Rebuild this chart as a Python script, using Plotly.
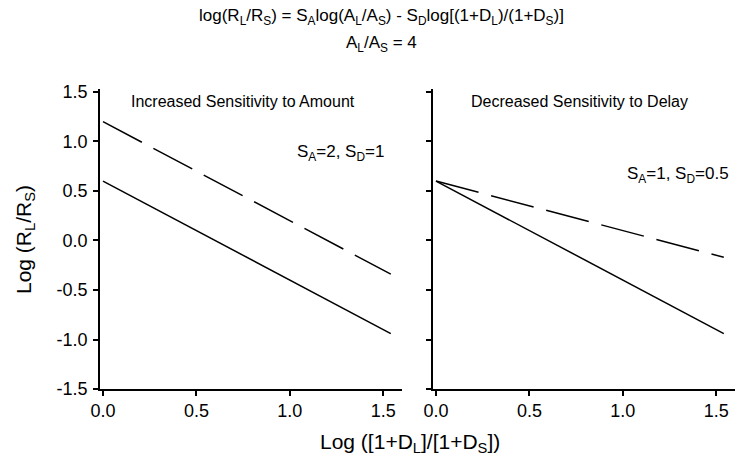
import plotly.graph_objects as go
from plotly.subplots import make_subplots

# Data
x_delay = [0.0, 1.54]
base_line = [0.60, -0.94]
amount_line = [1.20, -0.34]
delay_line = [0.60, -0.17]
panel_titles = ["Increased Sensitivity to Amount", "Decreased Sensitivity to Delay"]
panel_labels = ["S<sub>A</sub>=2, S<sub>D</sub>=1", "S<sub>A</sub>=1, S<sub>D</sub>=0.5"]
y_ticks = [-1.5, -1.0, -0.5, 0.0, 0.5, 1.0, 1.5]
y_tick_text = ["-1.5", "-1.0", "-0.5", "0.0", "0.5", "1.0", "1.5"]
x_ticks = [0.0, 0.5, 1.0, 1.5]
x_tick_text = ["0.0", "0.5", "1.0", "1.5"]

FONT = "Liberation Sans, Arial, sans-serif"

fig = make_subplots(rows=1, cols=2, horizontal_spacing=0.0)

line_solid = dict(color="black", width=1.5)
line_dash = dict(color="black", width=1.5, dash="44px,13px")

fig.add_trace(go.Scatter(x=x_delay, y=base_line, mode="lines", line=line_solid, showlegend=False), row=1, col=1)
fig.add_trace(go.Scatter(x=x_delay, y=amount_line, mode="lines", line=line_dash, showlegend=False), row=1, col=1)
fig.add_trace(go.Scatter(x=x_delay, y=base_line, mode="lines", line=line_solid, showlegend=False), row=1, col=2)
fig.add_trace(go.Scatter(x=x_delay, y=delay_line, mode="lines", line=line_dash, showlegend=False), row=1, col=2)

W, H = 743, 468
ml, mr, mt, mb = 100, 8, 89, 79
pw = W - ml - mr
ph = H - mt - mb
d1 = (0.0, (402 - ml) / pw)
d2 = ((433 - ml) / pw, 1.0)

TICKSIZE = 18

xaxis_common = dict(
    range=[-0.016, 1.6], tickvals=x_ticks, ticktext=x_tick_text,
    showline=True, linecolor="black", linewidth=1.5, ticks="outside", ticklen=5,
    tickwidth=1.5, tickcolor="black", showgrid=False, zeroline=False,
    tickfont=dict(family=FONT, size=TICKSIZE, color="black"),
)
yaxis_common = dict(
    range=[-1.5, 1.53], tickvals=y_ticks,
    showline=True, linecolor="black", linewidth=1.5, ticks="outside", ticklen=5,
    tickwidth=1.5, tickcolor="black", showgrid=False, zeroline=False,
    tickfont=dict(family=FONT, size=TICKSIZE, color="black"),
)

fig.update_layout(
    width=W, height=H,
    margin=dict(l=ml, r=mr, t=mt, b=mb),
    paper_bgcolor="white", plot_bgcolor="white",
    font=dict(family=FONT, color="black"),
    xaxis=dict(domain=list(d1), **xaxis_common),
    xaxis2=dict(domain=list(d2), **xaxis_common),
    yaxis=dict(ticktext=y_tick_text, ticklabelstandoff=2, **yaxis_common),
    yaxis2=dict(showticklabels=False, **yaxis_common),
)

def py(pix):
    return 1 - (pix - mt) / ph

def px(pix):
    return (pix - ml) / pw

annotations = [
    dict(text="log(R<sub>L</sub>/R<sub>S</sub>) = S<sub>A</sub>log(A<sub>L</sub>/A<sub>S</sub>) - S<sub>D</sub>log[(1+D<sub>L</sub>)/(1+D<sub>S</sub>)]",
         xref="paper", yref="paper", x=px(381), y=py(17),
         showarrow=False, font=dict(family=FONT, size=17), xanchor="center", yanchor="middle"),
    dict(text="A<sub>L</sub>/A<sub>S</sub> = 4",
         xref="paper", yref="paper", x=px(381), y=py(44),
         showarrow=False, font=dict(family=FONT, size=17), xanchor="center", yanchor="middle"),
    dict(text="Log (R<sub>L</sub>/R<sub>S</sub>)", xref="paper", yref="paper",
         x=px(25), y=py(240), textangle=-90, showarrow=False,
         font=dict(family=FONT, size=21), xanchor="center", yanchor="middle"),
    dict(text="Log ([1+D<sub>L</sub>]/[1+D<sub>S</sub>])", xref="paper", yref="paper",
         x=px(410), y=py(443), showarrow=False,
         font=dict(family=FONT, size=21), xanchor="center", yanchor="middle"),
    dict(text=panel_titles[0], xref="paper", yref="paper", x=px(243), y=py(101),
         showarrow=False, font=dict(family=FONT, size=16), xanchor="center", yanchor="middle"),
    dict(text=panel_titles[1], xref="paper", yref="paper", x=px(579), y=py(101),
         showarrow=False, font=dict(family=FONT, size=16), xanchor="center", yanchor="middle"),
    dict(text=panel_labels[0], xref="paper", yref="paper", x=px(386), y=py(153),
         showarrow=False, font=dict(family=FONT, size=17), xanchor="right", yanchor="middle"),
    dict(text=panel_labels[1], xref="paper", yref="paper", x=px(731), y=py(175),
         showarrow=False, font=dict(family=FONT, size=17), xanchor="right", yanchor="middle"),
]
fig.update_layout(annotations=annotations)

fig.write_html("out.html", config={"displayModeBar": False},
               post_script="document.body.style.margin='0';")
